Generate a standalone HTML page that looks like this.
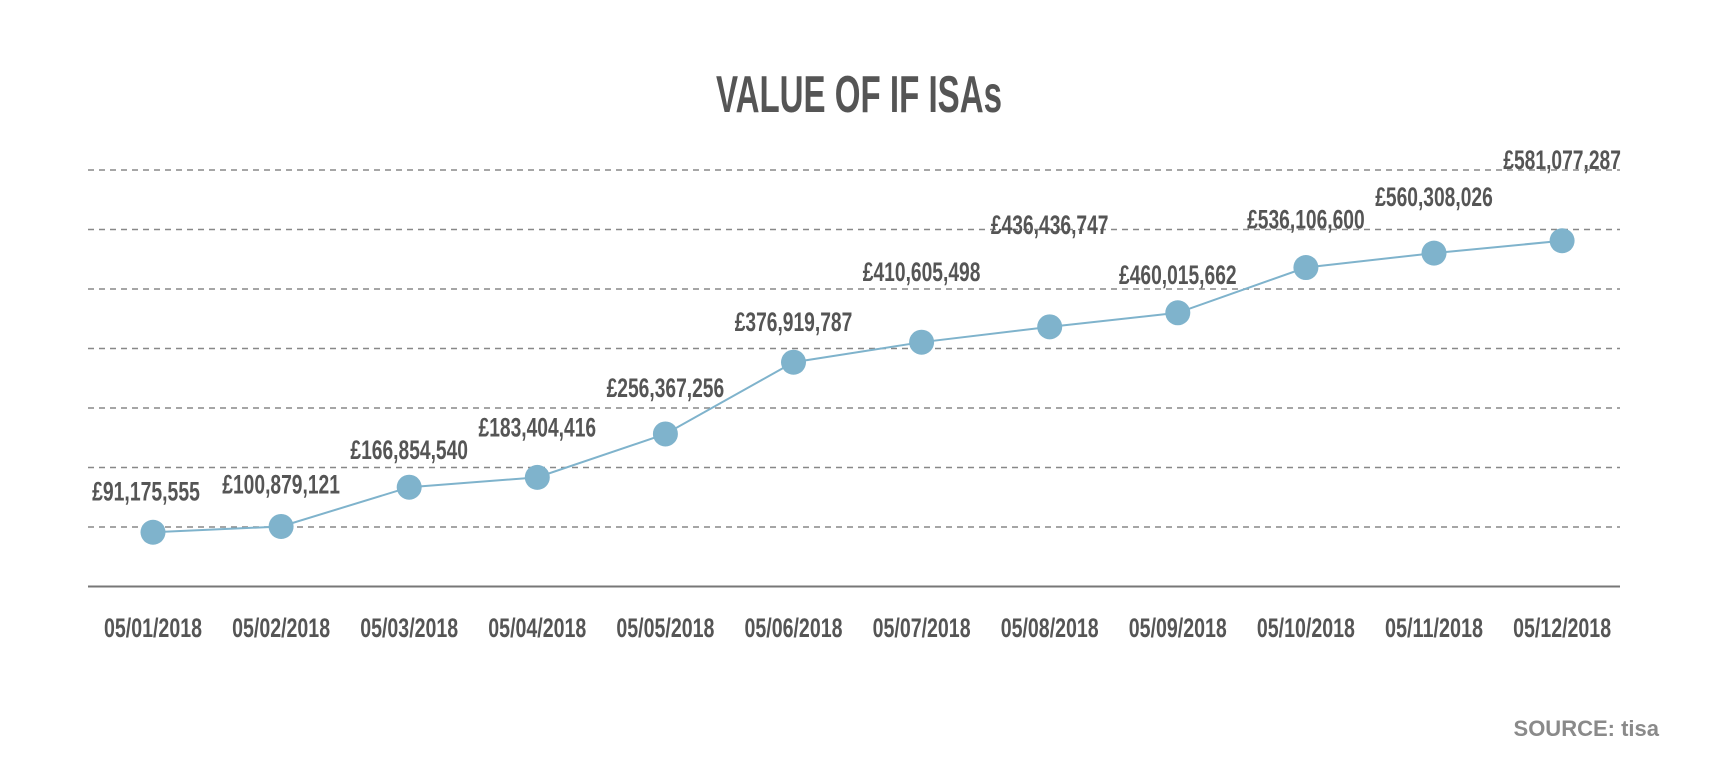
<!DOCTYPE html>
<html><head><meta charset="utf-8"><style>
html,body{margin:0;padding:0;background:#fff;}
svg{display:block;font-family:"Liberation Sans Narrow","Liberation Sans",sans-serif;}
</style></head><body>
<svg id="chart" width="1715" height="770" viewBox="0 0 1715 770" xmlns="http://www.w3.org/2000/svg">
<text x="859" y="112" text-anchor="middle" font-size="52" font-weight="bold" fill="#555" textLength="286" lengthAdjust="spacingAndGlyphs">VALUE OF IF ISAs</text>
<g id="grid"></g>
<line x1="88" y1="586.5" x2="1620" y2="586.5" stroke="#777" stroke-width="2"/>
<g id="xlabels"></g>
<g id="series"></g>
<g id="vlabels"></g>
<text x="1659" y="736" text-anchor="end" font-size="22" font-weight="bold" fill="#8a8a8a" font-family="Liberation Sans, sans-serif">SOURCE: tisa</text>
</svg>
<script>
const categories = ["05/01/2018","05/02/2018","05/03/2018","05/04/2018","05/05/2018","05/06/2018","05/07/2018","05/08/2018","05/09/2018","05/10/2018","05/11/2018","05/12/2018"];
const values = [91175555,100879121,166854540,183404416,256367256,376919787,410605498,436436747,460015662,536106600,560308026,581077287];
const gridValues = [100000000,200000000,300000000,400000000,500000000,600000000,700000000];
const labelOffsets = [42,43,38,51,47,41,71,103,39,49,57,82];

const NS = "http://www.w3.org/2000/svg";
const x0 = 153, xStep = 128.1;
const yZero = 586.5, yPerUnit = 59.5 / 100000000;
function xPos(i){ return x0 + i * xStep; }
function yPos(v){ return yZero - v * yPerUnit; }
function mk(tag, attrs){ const e = document.createElementNS(NS, tag); for (const k in attrs) e.setAttribute(k, attrs[k]); return e; }
function fmt(v){ return "£" + v.toString().replace(/\B(?=(\d{3})+(?!\d))/g, ","); }

const grid = document.getElementById("grid");
gridValues.forEach(g => {
  const l = mk("line", {x1: 88, x2: 1620, y1: yPos(g), y2: yPos(g), stroke: "#888", "stroke-width": 1.5, "stroke-dasharray": "6 5"});
  
  
  grid.appendChild(l);
});

const xl = document.getElementById("xlabels");
categories.forEach((c, i) => {
  const t = mk("text", {x: xPos(i), y: 637, "text-anchor": "middle", "font-size": 27, "font-weight": "bold", fill: "#555", textLength: 98, lengthAdjust: "spacingAndGlyphs"});
  t.textContent = c;
  
  
  xl.appendChild(t);
});

const s = document.getElementById("series");
const pts = values.map((v, i) => xPos(i) + "," + yPos(v)).join(" ");
const pl = mk("polyline", {points: pts, fill: "none", stroke: "#7fb3cc", "stroke-width": 2});


s.appendChild(pl);
values.forEach((v, i) => {
  const c = mk("circle", {cx: xPos(i), cy: yPos(v), r: 12.5, fill: "#7fb3cc"});
  
  
  s.appendChild(c);
});

const vl = document.getElementById("vlabels");
values.forEach((v, i) => {
  const txt = fmt(v);
  const t = mk("text", {x: xPos(i) - (i === 0 ? 7 : 0), y: yPos(v) - labelOffsets[i] + 10, "text-anchor": "middle", "font-size": 27, "font-weight": "bold", fill: "#555", textLength: txt.length * 9.8, lengthAdjust: "spacingAndGlyphs"});
  t.textContent = txt;
  
  
  vl.appendChild(t);
});
</script>
</body></html>
